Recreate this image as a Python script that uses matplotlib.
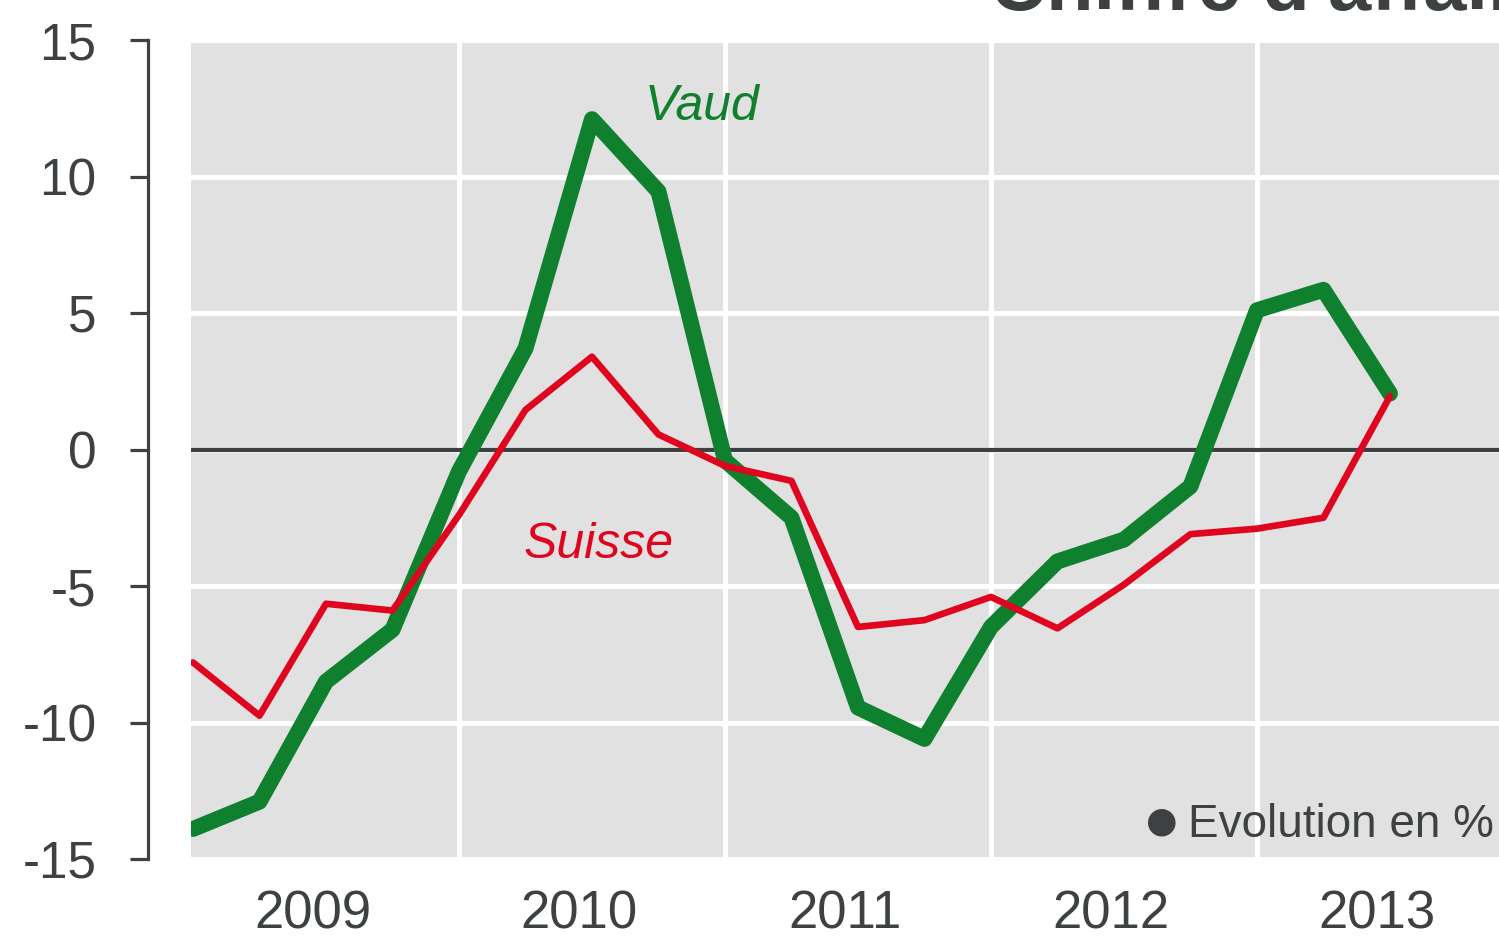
import matplotlib
matplotlib.use("Agg")
import matplotlib.pyplot as plt

quarters = list(range(19))
vaud = [-13.9, -12.9, -8.5, -6.6, -0.8, 3.7, 12.1, 9.45, -0.4, -2.5, -9.45, -10.6,
        -6.5, -4.1, -3.3, -1.35, 5.1, 5.85, 2.05]
suisse = [-7.8, -9.75, -5.65, -5.9, -2.4, 1.45, 3.4, 0.55, -0.6, -1.15, -6.5, -6.25,
          -5.4, -6.55, -4.95, -3.1, -2.9, -2.5, 1.95]
year_labels = ["2009", "2010", "2011", "2012", "2013"]
year_pos = [1.8, 5.8, 9.8, 13.8, 17.8]
year_bounds = [4, 8, 12, 16]
yticks = [-15, -10, -5, 0, 5, 10, 15]

DARK = "#3d4142"
GREEN = "#0f802d"
RED = "#e0051e"
GRAY = "#e1e1e1"

plt.rcParams['font.family'] = ['Liberation Sans', 'DejaVu Sans']

W, H = 1499, 939
fig = plt.figure(figsize=(W / 100, H / 100), dpi=100)
left, right, top, bottom = 191, 1499, 40, 859
ax = fig.add_axes([left / W, 1 - bottom / H, (right - left) / W, (bottom - top) / H])
ax.set_facecolor(GRAY)

ax.set_xlim(-0.03, 19.64)
ax.set_ylim(-15, 15)

ax.set_xticks(year_bounds)
ax.set_xticklabels([])
ax.set_xticks(year_pos, minor=True)
ax.set_xticklabels(year_labels, minor=True)
ax.tick_params(axis='x', which='both', length=0)
ax.tick_params(axis='x', which='minor', pad=22, labelsize=38, labelcolor=DARK)

ax.set_yticks(yticks)
ax.set_yticklabels([str(v) for v in yticks])
ax.tick_params(axis='y', length=13, width=2.3, color=DARK, pad=24,
               labelsize=37, labelcolor=DARK)

ax.grid(True, which='major', color='white', linewidth=3.6)
ax.set_axisbelow(True)

for s in ['top', 'right', 'bottom']:
    ax.spines[s].set_visible(False)
ax.spines['left'].set_position(('outward', 31))
ax.spines['left'].set_linewidth(2.3)
ax.spines['left'].set_color(DARK)

ax.axhline(0, color=DARK, linewidth=3)

ax.plot(quarters, vaud, color=GREEN, linewidth=11.5, solid_capstyle='round',
        solid_joinstyle='round', zorder=3)
ax.plot(quarters, suisse, color=RED, linewidth=4.8, solid_capstyle='round',
        solid_joinstyle='round', zorder=4)

ax.text(7.65, 12.55, "Vaud", color=GREEN, fontsize=36, style='italic',
        ha='center', va='center')
ax.text(6.1, -3.5, "Suisse", color=RED, fontsize=36, style='italic',
        ha='center', va='center')

fig.text(1162 / W, 1 - 821 / H, "\u25cf", color=DARK, fontsize=26,
         ha='center', va='center', family=['DejaVu Sans'])
fig.text(1188 / W, 1 - 825 / H, "Evolution en %", color=DARK, fontsize=33,
         ha='left', va='center')

fig.text(990 / W, 1 - 10 / H, "Chiffre d'affaires", color=DARK, fontsize=56,
         fontweight='bold', ha='left', va='baseline')

fig.savefig("out.png", dpi=100)
